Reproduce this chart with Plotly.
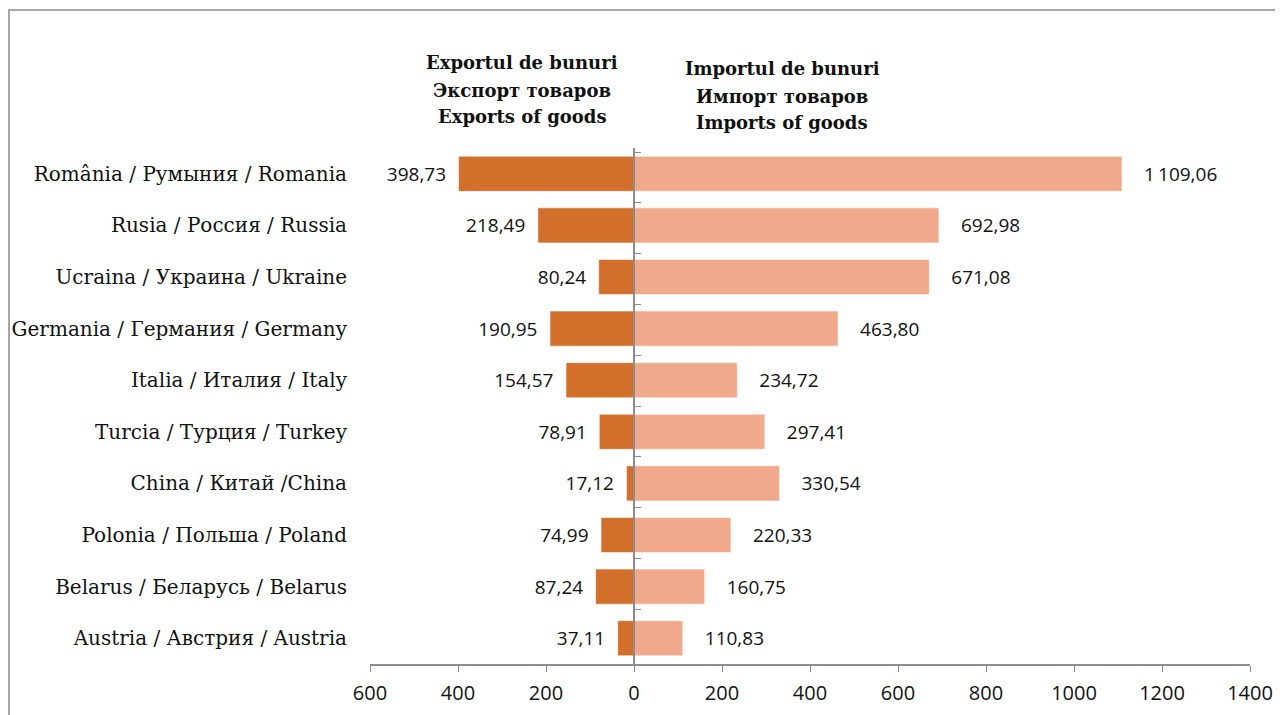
import plotly.graph_objects as go

countries = [
    "România / Румыния / Romania",
    "Rusia / Россия / Russia",
    "Ucraina / Украина / Ukraine",
    "Germania / Германия / Germany",
    "Italia / Италия / Italy",
    "Turcia / Турция / Turkey",
    "China / Китай /China",
    "Polonia / Польша / Poland",
    "Belarus / Беларусь / Belarus",
    "Austria / Австрия / Austria",
]
exports = [398.73, 218.49, 80.24, 190.95, 154.57, 78.91, 17.12, 74.99, 87.24, 37.11]
imports = [1109.06, 692.98, 671.08, 463.80, 234.72, 297.41, 330.54, 220.33, 160.75, 110.83]
tick_vals = [-600, -400, -200, 0, 200, 400, 600, 800, 1000, 1200, 1400]
export_head = ["Exportul de bunuri", "Экспорт товаров", "Exports of goods"]
import_head = ["Importul de bunuri", "Импорт товаров", "Imports of goods"]

COLOR_EXP = "#D2702B"
COLOR_IMP = "#F1A98B"
AXIS_GRAY = "#8c8c8c"
SANS = "Open Sans"
SERIF = "DejaVu Serif"


def fmt(v):
    # Romanian style: comma decimal, thin space thousands
    s = f"{v:,.2f}"
    return s.replace(",", "\u2009").replace(".", ",")


# page has an 8px body margin, so the figure is offset by 8px
OFF = 8
W, H = 1283 - OFF, 715 - OFF
L, T = 370 - OFF, 148 - OFF
R, B = W - (1250 - OFF), H - (664 - OFF)
pw, ph = W - L - R, H - T - B


def px_x(x):
    return (x - OFF - L) / pw


def px_y(y):
    return (H - B - (y - OFF)) / ph


fig = go.Figure()

fig.add_trace(go.Bar(
    y=countries, x=[-v for v in exports], orientation="h",
    marker=dict(color=COLOR_EXP, line=dict(color="rgba(255,255,255,0.55)", width=1)),
    text=[fmt(v) + "\u2002" for v in exports], textposition="outside",
    textfont=dict(family=SANS, size=19, color="#111111"),
    cliponaxis=False, hoverinfo="skip",
))
fig.add_trace(go.Bar(
    y=countries, x=imports, orientation="h",
    marker=dict(color=COLOR_IMP, line=dict(color="rgba(255,255,255,0.55)", width=1)),
    text=["\u2003" + fmt(v) for v in imports], textposition="outside",
    textfont=dict(family=SANS, size=19, color="#111111"),
    cliponaxis=False, hoverinfo="skip",
))

# invisible trace carrying the category axis drawn at zero
fig.add_trace(go.Scatter(
    y=countries, x=[0] * len(countries), yaxis="y2", mode="markers",
    marker=dict(opacity=0), hoverinfo="skip", showlegend=False,
))

x0, x1 = -600, 1400
zero_pos = (0 - x0) / (x1 - x0)

fig.update_layout(
    width=W, height=H,
    margin=dict(l=L, r=R, t=T, b=B, autoexpand=False),
    paper_bgcolor="white", plot_bgcolor="white",
    barmode="overlay", bargap=0.32, showlegend=False,
    xaxis=dict(
        range=[x0, x1], tickvals=tick_vals, ticktext=[str(abs(v)) for v in tick_vals],
        showgrid=False, zeroline=False,
        showline=True, linecolor=AXIS_GRAY, linewidth=2,
        ticks="outside", ticklen=6, tickcolor=AXIS_GRAY, tickwidth=1,
        ticklabelstandoff=4,
        tickfont=dict(family=SANS, size=20, color="#111111"),
    ),
    yaxis=dict(
        autorange="reversed", showgrid=False, zeroline=False, showline=False,
        ticks="", ticklabelstandoff=22,
        tickfont=dict(family=SERIF, size=20, color="#111111"),
    ),
    yaxis2=dict(
        overlaying="y", anchor="free", position=zero_pos, side="right",
        autorange="reversed", showgrid=False, zeroline=False,
        showline=True, linecolor=AXIS_GRAY, linewidth=2,
        ticks="outside", tickson="boundaries", ticklen=6, tickcolor=AXIS_GRAY,
        showticklabels=False,
    ),
)

# column headings, one line at a time for the wider leading
for cx, y_top, lines in [(522, 63, export_head), (782, 69, import_head)]:
    for i, line in enumerate(lines):
        fig.add_annotation(
            x=px_x(cx), y=px_y(y_top + 27 * i), xref="paper", yref="paper",
            xanchor="center", yanchor="middle", showarrow=False,
            text="<b>" + line + "</b>",
            font=dict(family=SERIF, size=18, color="#111111"),
        )

# outer frame of the figure box
fig.add_shape(
    type="rect", xref="paper", yref="paper",
    x0=px_x(OFF + 1), x1=px_x(1300),
    y0=px_y(730), y1=px_y(10),
    line=dict(color="#a6a6a6", width=2), fillcolor="rgba(0,0,0,0)", layer="below",
)

fig.write_html("out.html")
